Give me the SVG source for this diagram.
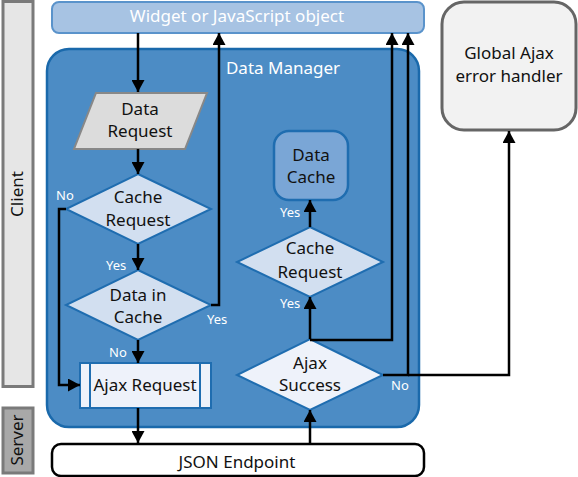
<svg xmlns="http://www.w3.org/2000/svg" width="578" height="477" viewBox="0 0 578 477">
<defs>
<marker id="ah" viewBox="0 0 12 13" refX="12" refY="6.5" markerWidth="12" markerHeight="13" markerUnits="userSpaceOnUse" orient="auto">
<path d="M0,0 L12,6.5 L0,13 Z" fill="#000"/>
</marker>
<style>
text{font-family:"Noto Sans","Open Sans",sans-serif;font-weight:400}
.t{font-size:17px;fill:#111;text-anchor:middle}
.w{font-size:17px;fill:#fff;text-anchor:middle}
.s{font-size:13px;fill:#fff}
.conn{fill:none;stroke:#000;stroke-width:2.5}
.dia{fill:#d2dff0;stroke:#1f6db0;stroke-width:2}
.lt{fill:#eef2fa;stroke:#1f6db0;stroke-width:2}
</style>
</defs>
<rect width="578" height="477" fill="#fff"/>
<g id="client">
<rect x="3" y="1.5" width="30" height="385" fill="#e6e6e6" stroke="#7a7a7a" stroke-width="3"/>
<text class="t" transform="translate(23,194) rotate(-90)">Client</text>
</g>
<g id="server">
<rect x="3" y="408" width="30" height="65" fill="#a8a8a8" stroke="#7a7a7a" stroke-width="3"/>
<text class="t" transform="translate(23,440) rotate(-90)">Server</text>
</g>
<g id="widget">
<rect x="52" y="2" width="372" height="31" rx="7" fill="#a7c3e3" stroke="#5a93cb" stroke-width="2"/>
<text class="w" x="237" y="22">Widget or JavaScript object</text>
</g>
<g id="data-manager">
<rect x="47" y="49" width="372" height="378" rx="22" fill="#4c8cc5" stroke="#1a69ab" stroke-width="2.5"/>
<text class="w" x="283" y="74">Data Manager</text>
</g>
<g id="global-handler">
<rect x="442" y="2" width="134" height="128" rx="22" fill="#f2f2f2" stroke="#666" stroke-width="3"/>
<text class="t" x="509" y="59">Global Ajax</text>
<text class="t" x="509" y="82">error handler</text>
</g>
<g id="json-endpoint">
<rect x="52" y="444" width="372" height="32" rx="9" fill="#fff" stroke="#000" stroke-width="2.5"/>
<text class="t" x="237" y="468">JSON Endpoint</text>
</g>
<g id="data-request">
<polygon points="96,93 207,93 185,149 74,149" fill="#dcdcdc" stroke="#888" stroke-width="2"/>
<text class="t" x="140" y="115">Data</text>
<text class="t" x="140" y="137">Request</text>
</g>
<g id="cache-request-1">
<polygon class="dia" points="138,174 211,209 138,244 66,209"/>
<text class="t" x="138" y="203">Cache</text>
<text class="t" x="138" y="226">Request</text>
</g>
<g id="data-in-cache">
<polygon class="dia" points="138,270 211,305 138,340 66,305"/>
<text class="t" x="138" y="301">Data in</text>
<text class="t" x="138" y="323">Cache</text>
</g>
<g id="ajax-request">
<rect class="lt" x="80" y="363" width="131" height="45"/>
<line x1="90" y1="363" x2="90" y2="408" stroke="#1f6db0" stroke-width="2"/>
<line x1="200" y1="363" x2="200" y2="408" stroke="#1f6db0" stroke-width="2"/>
<text class="t" x="145" y="391">Ajax Request</text>
</g>
<g id="data-cache">
<rect x="274" y="131" width="74" height="69" rx="15" fill="#7aa6d6" stroke="#1f6db0" stroke-width="2.5"/>
<text class="t" x="311" y="161">Data</text>
<text class="t" x="311" y="183">Cache</text>
</g>
<g id="cache-request-2">
<polygon class="dia" points="310,227 383,262 310,297 237,262"/>
<text class="t" x="310" y="254">Cache</text>
<text class="t" x="310" y="278">Request</text>
</g>
<g id="ajax-success">
<polygon class="lt" points="310,339 383,375 310,410 237,375"/>
<text class="t" x="310" y="369">Ajax</text>
<text class="t" x="310" y="391">Success</text>
</g>
<g id="connectors">
<path class="conn" d="M138,33 V92" marker-end="url(#ah)"/>
<path class="conn" d="M138,149 V174" marker-end="url(#ah)"/>
<path class="conn" d="M138,244 V270" marker-end="url(#ah)"/>
<path class="conn" d="M138,340 V363" marker-end="url(#ah)"/>
<path class="conn" d="M66,209 H59 V385 H80" marker-end="url(#ah)"/>
<path class="conn" d="M211,305 H219 V33" marker-end="url(#ah)"/>
<path class="conn" d="M138,408 V443" marker-end="url(#ah)"/>
<path class="conn" d="M310,444 V410" marker-end="url(#ah)"/>
<path class="conn" d="M310,339 V297" marker-end="url(#ah)"/>
<path class="conn" d="M310,227 V200" marker-end="url(#ah)"/>
<path class="conn" d="M310,340 H392 V33" marker-end="url(#ah)"/>
<path class="conn" d="M383,375 H408 V33" marker-end="url(#ah)"/>
<path class="conn" d="M408,375 H509 V131" marker-end="url(#ah)"/>
<text class="s" x="56" y="200">No</text>
<text class="s" x="106" y="270">Yes</text>
<text class="s" x="109" y="357">No</text>
<text class="s" x="207" y="324">Yes</text>
<text class="s" x="280" y="217">Yes</text>
<text class="s" x="280" y="308">Yes</text>
<text class="s" x="391" y="390">No</text>
</g>
</svg>
